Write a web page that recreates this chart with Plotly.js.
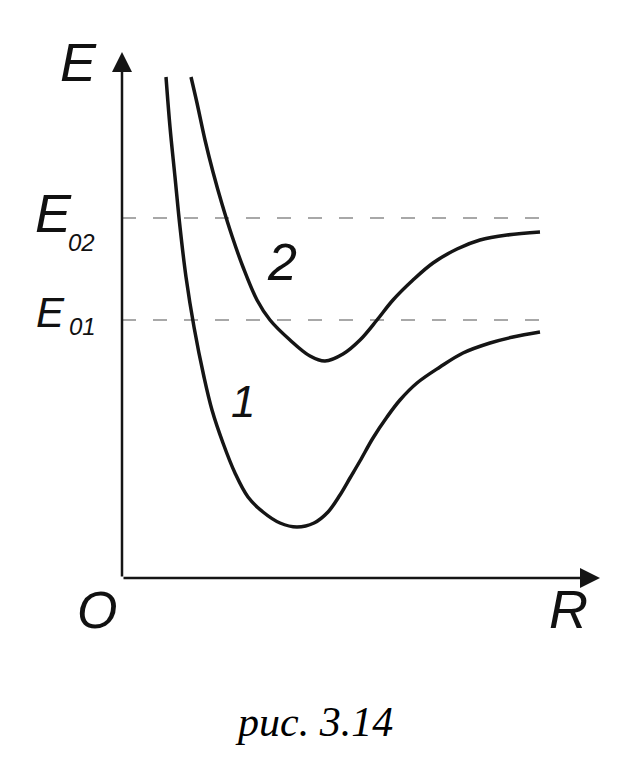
<!DOCTYPE html>
<html>
<head>
<meta charset="utf-8">
<script src="https://cdn.plot.ly/plotly-3.0.1.min.js"></script>
<style>
  html, body { margin: 0; padding: 0; background: #fff; }
  #chart { width: 628px; height: 769px; }
</style>
</head>
<body>
<div id="chart"></div>
<script>
// Potential energy curves E(R), arbitrary units
var curve1R = [1.1, 1.2, 1.325, 1.45, 1.6, 1.8, 2.05, 2.25, 2.525, 2.825, 3.15, 3.525, 3.95, 4.375, 4.8, 5.15, 5.45, 5.7, 5.95, 6.275, 6.625, 6.95, 7.375, 7.95, 8.525, 9.2, 9.775, 10.45];
var curve1E = [12.525, 11.275, 10.025, 8.775, 7.525, 6.275, 5.025, 4.2, 3.375, 2.625, 2.025, 1.65, 1.375, 1.275, 1.375, 1.65, 2.075, 2.5, 2.925, 3.5, 4.025, 4.45, 4.875, 5.275, 5.625, 5.875, 6.025, 6.15];

var curve2R = [1.725, 1.875, 2.075, 2.275, 2.5, 2.75, 3.025, 3.375, 3.7, 4.2, 4.7, 5.075, 5.525, 5.95, 6.375, 6.775, 7.275, 7.775, 8.375, 8.95, 9.625, 10.45];
var curve2E = [12.525, 11.875, 10.95, 10.15, 9.35, 8.55, 7.775, 6.95, 6.45, 5.95, 5.55, 5.425, 5.6, 5.95, 6.45, 6.95, 7.45, 7.875, 8.225, 8.45, 8.575, 8.65];

var levelNames = ['E01', 'E02'];
var levelValues = [6.45, 9.0];
var levelREnd = 10.45;

var axisRMax = 11.95;
var axisEMax = 13.15;

var curveLabels = ['1', '2'];
var caption = 'рис. 3.14';

var traces = [];
for (var i = 0; i < levelValues.length; i++) {
  traces.push({
    x: [0, levelREnd], y: [levelValues[i], levelValues[i]],
    mode: 'lines', hoverinfo: 'skip',
    line: { color: '#8c8c8c', width: 1.5, dash: '14px,17px' }
  });
}
traces.push({
  x: curve1R, y: curve1E, mode: 'lines',
  line: { color: '#151515', width: 3.5, shape: 'spline', smoothing: 1 }
});
traces.push({
  x: curve2R, y: curve2E, mode: 'lines',
  line: { color: '#151515', width: 3.5, shape: 'spline', smoothing: 1 }
});

var W = 628, H = 769;
function px(x) { return x / W; }
function py(y) { return 1 - y / H; }
var hand = 'Liberation Sans, Arial, sans-serif';

function lab(text, x, y, size, family, color) {
  return {
    xref: 'paper', yref: 'paper', x: px(x), y: py(y),
    xanchor: 'center', yanchor: 'middle', showarrow: false,
    text: '<i>' + text + '</i>',
    font: { family: family || hand, size: size, color: color || '#111' }
  };
}

var annotations = [
  // axes as arrows
  { x: 0, y: axisEMax, ax: 0, ay: 0, xref: 'x', yref: 'y', axref: 'x', ayref: 'y',
    showarrow: true, arrowhead: 2, arrowsize: 1.6, arrowwidth: 2.5, arrowcolor: '#151515', text: '' },
  { x: axisRMax, y: 0, ax: 0, ay: 0, xref: 'x', yref: 'y', axref: 'x', ayref: 'y',
    showarrow: true, arrowhead: 2, arrowsize: 1.6, arrowwidth: 2.5, arrowcolor: '#151515', text: '' },
  lab('E', 78, 62, 54),
  lab('E', 53, 213, 54),
  lab('02', 81, 242, 24),
  lab('E', 50, 312, 42),
  lab('01', 82, 326, 24),
  lab('O', 97, 610, 52),
  lab('R', 568, 609, 54),
  lab(curveLabels[0], 243, 401, 44),
  lab(curveLabels[1], 282, 262, 52),
  lab(caption, 314, 722, 42, 'Liberation Serif, Times New Roman, serif', '#000')
];

var layout = {
  width: W, height: H,
  margin: { l: 0, r: 0, t: 0, b: 0 },
  paper_bgcolor: '#fff', plot_bgcolor: '#fff',
  showlegend: false,
  xaxis: { range: [-3.05, 12.65], visible: false, fixedrange: true },
  yaxis: { range: [-4.775, 14.45], visible: false, fixedrange: true },
  annotations: annotations
};

Plotly.newPlot('chart', traces, layout, { staticPlot: true });
</script>
</body>
</html>
